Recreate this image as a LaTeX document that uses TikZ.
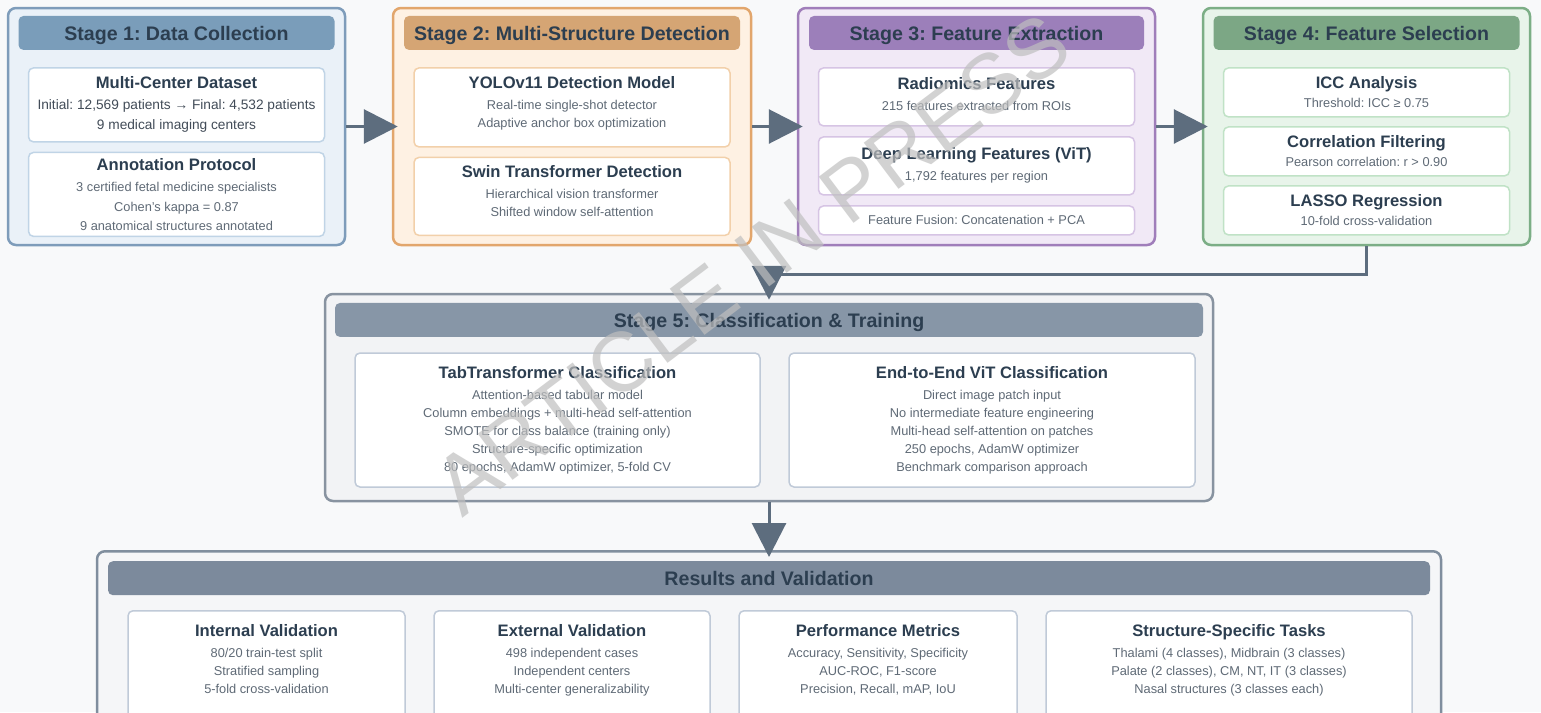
\documentclass[tikz,border=0pt]{standalone}
\usepackage{fontspec}
\setmainfont{Liberation Sans}
\usepackage{tikz}
\usetikzlibrary{arrows.meta,positioning}
\frenchspacing
\definecolor{pageBg}{RGB}{248,249,250}
\definecolor{inkDark}{RGB}{44,62,80}
\definecolor{inkSoft}{RGB}{95,106,118}
\definecolor{inkMid}{RGB}{66,76,88}
\definecolor{arrowInk}{RGB}{93,109,126}
\definecolor{blueLine}{RGB}{126,156,186}
\definecolor{blueFill}{RGB}{234,241,248}
\definecolor{blueBar}{RGB}{122,157,186}
\definecolor{blueSoft}{RGB}{192,212,230}
\definecolor{orangeLine}{RGB}{226,166,108}
\definecolor{orangeFill}{RGB}{254,241,227}
\definecolor{orangeBar}{RGB}{213,165,116}
\definecolor{orangeSoft}{RGB}{242,208,170}
\definecolor{purpleLine}{RGB}{160,126,186}
\definecolor{purpleFill}{RGB}{241,233,246}
\definecolor{purpleBar}{RGB}{156,127,186}
\definecolor{purpleSoft}{RGB}{214,196,228}
\definecolor{greenLine}{RGB}{124,174,134}
\definecolor{greenFill}{RGB}{232,244,234}
\definecolor{greenBar}{RGB}{124,167,133}
\definecolor{greenSoft}{RGB}{192,226,198}
\definecolor{grayLine}{RGB}{136,147,160}
\definecolor{grayFill}{RGB}{242,243,245}
\definecolor{grayBar}{RGB}{135,150,167}
\definecolor{graySoft}{RGB}{192,202,216}
\definecolor{slateLine}{RGB}{128,142,158}
\definecolor{slateFill}{RGB}{245,246,248}
\definecolor{slateBar}{RGB}{124,138,156}
\newcommand{\stagefont}{\bfseries\fontsize{19.6}{23}\selectfont}
\newcommand{\itemfont}{\bfseries\fontsize{16.6}{19}\selectfont\color{inkDark}}
\newcommand{\bodyfont}{\fontsize{12.8}{18}\selectfont}
\tikzset{
  stagebox/.style={rounded corners=8pt, line width=2.5pt, inner sep=0pt},
  titlebar/.style={rounded corners=5pt, inner sep=0pt, minimum height=34pt, text depth=0pt, font=\stagefont, text=inkDark},
  card/.style={draw, fill=white, rounded corners=5pt, line width=1.5pt, inner sep=0pt, align=center, font=\bodyfont, text=inkSoft},
  cardtext/.style={inner sep=0pt, align=center, font=\bodyfont, text=inkSoft},
  flow/.style={-{Triangle[length=34pt, width=34pt]}, line width=3pt, draw=arrowInk},
  link/.style={line width=3pt, draw=arrowInk},
  watermark/.style={font=\fontsize{84}{86}\selectfont, text=black!25, opacity=0.7, rotate=37}
}

\begin{document}
\begin{tikzpicture}[x=1pt, y=-1pt]
  \useasboundingbox (0,0) rectangle (1541,712);
  \clip (0,0) rectangle (1541,712);
  \fill[pageBg] (0,0) rectangle (1541,712);

  \node[stagebox, draw=blueLine, fill=blueFill, minimum width=337pt, minimum height=237pt] (s1) at (176.5,126.5) {};
  \node[titlebar, fill=blueBar, minimum width=316pt, below=9pt of s1.north] (s1t) {Stage 1: Data Collection};
  \node[card, draw=blueSoft, minimum width=296pt, minimum height=74pt, below=17pt of s1t, font=\fontsize{13.7}{20}\selectfont, text=inkMid] (s1a) {{\itemfont Multi-Center Dataset}\\[1pt] Initial: 12,569 patients → Final: 4,532 patients\\ 9 medical imaging centers};
  \node[card, draw=blueSoft, minimum width=296pt, minimum height=84pt, below=9pt of s1a, font=\fontsize{12.8}{19.5}\selectfont, text depth=-5pt] (s1b) {{\itemfont Annotation Protocol}\\[2pt] 3 certified fetal medicine specialists\\ Cohen's kappa = 0.87\\ 9 anatomical structures annotated};

  \node[stagebox, draw=orangeLine, fill=orangeFill, minimum width=358pt, minimum height=237pt] (s2) at (572,126.5) {};
  \node[titlebar, fill=orangeBar, minimum width=336pt, below=9pt of s2.north] (s2t) {Stage 2: Multi-Structure Detection};
  \node[card, draw=orangeSoft, minimum width=316pt, minimum height=79pt, below=17pt of s2t, text depth=10.5pt] (s2a) {{\itemfont YOLOv11 Detection Model}\\[3pt] Real-time single-shot detector\\ Adaptive anchor box optimization};
  \node[card, draw=orangeSoft, minimum width=316pt, minimum height=78pt, below=9pt of s2a, text depth=10pt] (s2b) {{\itemfont Swin Transformer Detection}\\[3pt] Hierarchical vision transformer\\ Shifted window self-attention};

  \node[stagebox, draw=purpleLine, fill=purpleFill, minimum width=357pt, minimum height=237pt] (s3) at (976.5,126.5) {};
  \node[titlebar, fill=purpleBar, minimum width=335pt, below=9pt of s3.north] (s3t) {Stage 3: Feature Extraction};
  \node[card, draw=purpleSoft, minimum width=316pt, minimum height=58pt, below=17pt of s3t, text depth=6pt] (s3a) {{\itemfont Radiomics Features}\\[3pt] 215 features extracted from ROIs};
  \node[card, draw=purpleSoft, minimum width=316pt, minimum height=58pt, below=9.5pt of s3a, text depth=4.5pt] (s3b) {{\itemfont Deep Learning Features (ViT)}\\[3pt] 1,792 features per region};
  \node[card, draw=purpleSoft, minimum width=316pt, minimum height=29pt, below=9.5pt of s3b] (s3c) {Feature Fusion: Concatenation + PCA};

  \node[stagebox, draw=greenLine, fill=greenFill, minimum width=327pt, minimum height=237pt] (s4) at (1366.5,126.5) {};
  \node[titlebar, fill=greenBar, minimum width=306pt, below=9pt of s4.north] (s4t) {Stage 4: Feature Selection};
  \node[card, draw=greenSoft, minimum width=286pt, minimum height=49pt, below=17pt of s4t] (s4a) {{\itemfont ICC Analysis}\\[1pt] Threshold: ICC ≥ 0.75};
  \node[card, draw=greenSoft, minimum width=286pt, minimum height=49pt, below=8.5pt of s4a] (s4b) {{\itemfont Correlation Filtering}\\[1pt] Pearson correlation: r > 0.90};
  \node[card, draw=greenSoft, minimum width=286pt, minimum height=49pt, below=8.5pt of s4b] (s4c) {{\itemfont LASSO Regression}\\[1pt] 10-fold cross-validation};

  \node[stagebox, draw=grayLine, fill=grayFill, minimum width=888pt, minimum height=207pt] (s5) at (769,397.5) {};
  \node[titlebar, fill=grayBar, minimum width=868pt, below=10pt of s5.north] (s5t) {Stage 5: Classification \& Training};
  \node[card, draw=graySoft, minimum width=405pt, minimum height=134pt] (s5a) at (557.5,420) {{\itemfont TabTransformer Classification}\\[3pt] Attention-based tabular model\\ Column embeddings + multi-head self-attention\\ SMOTE for class balance (training only)\\ Structure-specific optimization\\ 80 epochs, AdamW optimizer, 5-fold CV};
  \node[card, draw=graySoft, minimum width=406pt, minimum height=134pt] (s5b) at (992,420) {{\itemfont End-to-End ViT Classification}\\[3pt] Direct image patch input\\ No intermediate feature engineering\\ Multi-head self-attention on patches\\ 250 epochs, AdamW optimizer\\ Benchmark comparison approach};

  \node[stagebox, draw=slateLine, fill=slateFill, minimum width=1344pt, minimum height=220pt, anchor=north] (res) at (769,550) {};
  \node[titlebar, fill=slateBar, minimum width=1322pt, below=11pt of res.north] (rest) {Results and Validation};
  \node[card, draw=graySoft, minimum width=277pt, minimum height=130pt, anchor=north] (r1) at (266.5,610) {};
  \node[card, draw=graySoft, minimum width=276pt, minimum height=130pt, anchor=north] (r2) at (572,610) {};
  \node[card, draw=graySoft, minimum width=278pt, minimum height=130pt, anchor=north] (r3) at (878,610) {};
  \node[card, draw=graySoft, minimum width=366pt, minimum height=130pt, anchor=north] (r4) at (1229,610) {};
  \node[cardtext, below=14pt of r1.north] (r1t) {{\itemfont Internal Validation}\\[3pt] 80/20 train-test split\\ Stratified sampling\\ 5-fold cross-validation};
  \node[cardtext, below=14pt of r2.north] (r2t) {{\itemfont External Validation}\\[3pt] 498 independent cases\\ Independent centers\\ Multi-center generalizability};
  \node[cardtext, below=14pt of r3.north] (r3t) {{\itemfont Performance Metrics}\\[3pt] Accuracy, Sensitivity, Specificity\\ AUC-ROC, F1-score\\ Precision, Recall, mAP, IoU};
  \node[cardtext, below=14pt of r4.north] (r4t) {{\itemfont Structure-Specific Tasks}\\[3pt] Thalami (4 classes), Midbrain (3 classes)\\ Palate (2 classes), CM, NT, IT (3 classes)\\ Nasal structures (3 classes each)};

  \draw[flow, shorten >=-6pt] (s1) -- (s2);
  \draw[flow, shorten >=-6pt] (s2) -- (s3);
  \draw[flow, shorten >=-6pt] (s3) -- (s4);
  \coordinate (bend) at (769,274);
  \draw[link] (s4.south) |- (bend);
  \draw[flow, shorten >=-7pt] (bend) -- (s5.north);
  \draw[flow, shorten >=-7pt] (s5.south) -- (res.north);

  \node[watermark] (wm) at (752,264) {ARTICLE IN PRESS};
\end{tikzpicture}
\end{document}
